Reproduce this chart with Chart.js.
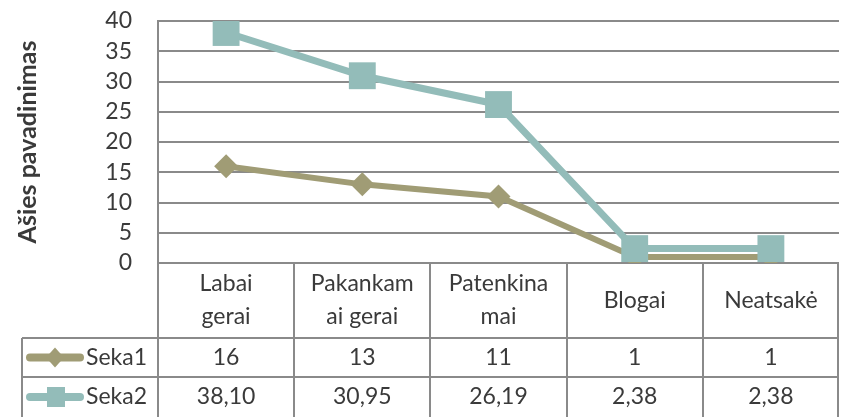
<!DOCTYPE html>
<html>
<head>
<meta charset="utf-8">
<script src="https://cdn.jsdelivr.net/npm/chart.js@4"></script>
<style>
  html, body { margin: 0; padding: 0; background: #fff; }
  #wrap { width: 858px; height: 417px; }
</style>
</head>
<body>
<div id="wrap"><canvas id="chart" width="858" height="417"></canvas></div>
<script>
// Data
const categories = [['Labai', 'gerai'], ['Pakankam', 'ai gerai'], ['Patenkina', 'mai'], ['Blogai'], ['Neatsakė']];
const seriesNames = ['Seka1', 'Seka2'];
const seka1 = [16, 13, 11, 1, 1];
const seka2 = [38.10, 30.95, 26.19, 2.38, 2.38];
const seriesDecimals = [0, 2];
const yTicks = { min: 0, max: 40, step: 5 };

const colors = {
    seka1: '#a09c75',
    seka2: '#93bcb9',
    grid: '#8a8a8a',
    text: '#3a3a3a'
};
const fontFamily = 'Lato, "Open Sans", sans-serif';

function fmt(v, dec) {
    return v.toFixed(dec).replace('.', ',');
}

// Excel style data table under the plot
const dataTable = {
    id: 'dataTable',
    afterDraw(chart) {
        const ctx = chart.ctx;
        const area = chart.chartArea;
        const xs = chart.scales.x;
        const n = categories.length;
        const w = (area.right - area.left) / n;
        const headBottom = area.bottom + 75;
        const row1Bottom = area.bottom + 114;
        const tableBottom = chart.height;
        const legendLeft = 22;

        ctx.save();
        ctx.strokeStyle = colors.grid;
        ctx.lineWidth = 2;
        ctx.beginPath();
        for (let i = 0; i <= n; i++) {
            const x = Math.round(area.left + i * w) - (i === n ? 1 : 0);
            ctx.moveTo(x, area.bottom);
            ctx.lineTo(x, tableBottom);
        }
        ctx.moveTo(legendLeft, headBottom);
        ctx.lineTo(legendLeft, tableBottom);
        [headBottom, row1Bottom].forEach(y => {
            ctx.moveTo(legendLeft, y);
            ctx.lineTo(area.right, y);
        });
        ctx.stroke();

        ctx.fillStyle = colors.text;
        ctx.font = '23px ' + fontFamily;
        ctx.textAlign = 'center';
        ctx.textBaseline = 'middle';
        const lh = 33;
        const headMid = (area.bottom + headBottom) / 2;
        categories.forEach((lines, i) => {
            const x = xs.getPixelForValue(i);
            lines.forEach((t, j) => {
                ctx.fillText(t, x, headMid + (j - (lines.length - 1) / 2) * lh);
            });
        });

        const rows = [seka1, seka2];
        const rowMids = [(headBottom + row1Bottom) / 2, (row1Bottom + tableBottom) / 2];
        rows.forEach((vals, r) => {
            vals.forEach((v, i) => {
                ctx.fillText(fmt(v, seriesDecimals[r]), xs.getPixelForValue(i), rowMids[r]);
            });
        });

        // legend keys
        const keyColors = [colors.seka1, colors.seka2];
        rowMids.forEach((y, r) => {
            ctx.strokeStyle = keyColors[r];
            ctx.fillStyle = keyColors[r];
            ctx.lineWidth = 8;
            ctx.lineCap = 'round';
            ctx.beginPath();
            ctx.moveTo(30, y);
            ctx.lineTo(80, y);
            ctx.stroke();
            ctx.beginPath();
            if (r === 0) {
                ctx.moveTo(55, y - 10);
                ctx.lineTo(64, y);
                ctx.lineTo(55, y + 10);
                ctx.lineTo(46, y);
                ctx.closePath();
            } else {
                ctx.rect(47, y - 10, 18, 20);
            }
            ctx.fill();
            ctx.fillStyle = colors.text;
            ctx.textAlign = 'left';
            ctx.fillText(seriesNames[r], 86, y);
        });
        ctx.restore();
    }
};

new Chart(document.getElementById('chart'), {
    type: 'line',
    data: {
        labels: categories.map(c => c.join(' ')),
        datasets: [
            {
                label: seriesNames[0],
                data: seka1,
                borderColor: colors.seka1,
                backgroundColor: colors.seka1,
                borderWidth: 6,
                pointStyle: 'rectRot',
                pointRadius: 12,
                pointBorderWidth: 0,
                order: 1
            },
            {
                label: seriesNames[1],
                data: seka2,
                borderColor: colors.seka2,
                backgroundColor: colors.seka2,
                borderWidth: 7,
                pointStyle: 'rect',
                pointRadius: 19,
                pointBorderWidth: 0,
                order: 0
            }
        ]
    },
    options: {
        responsive: false,
        animation: false,
        layout: { padding: { top: 21, right: 4, bottom: 154, left: 0 } },
        plugins: {
            legend: { display: false },
            tooltip: { enabled: false }
        },
        scales: {
            x: {
                display: false,
                offset: true
            },
            y: {
                min: yTicks.min,
                max: yTicks.max,
                afterFit: s => { s.width = 158; },
                ticks: {
                    stepSize: yTicks.step,
                    autoSkip: false,
                    padding: 2,
                    color: colors.text,
                    font: { family: fontFamily, size: 23 }
                },
                grid: {
                    color: colors.grid,
                    lineWidth: 2,
                    drawTicks: true,
                    tickLength: 24,
                    tickColor: 'rgba(0,0,0,0)'
                },
                border: { color: colors.grid, width: 2 },
                title: {
                    display: true,
                    text: 'Ašies pavadinimas',
                    color: colors.text,
                    padding: { top: 13, bottom: 0 },
                    font: { family: fontFamily, size: 25, weight: 'bold' }
                }
            }
        }
    },
    plugins: [dataTable]
});
</script>
</body>
</html>
